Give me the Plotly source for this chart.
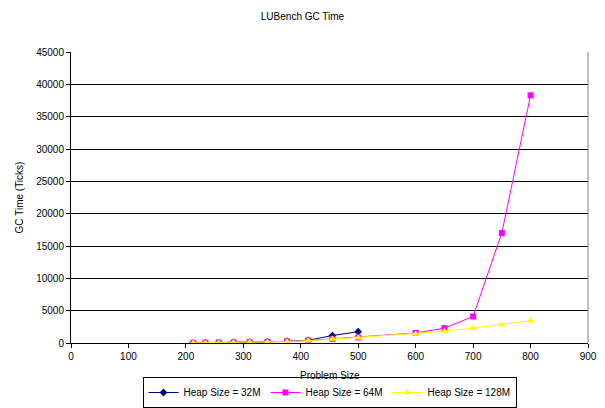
import plotly.graph_objects as go

# Problem sizes for each heap configuration
sizes_32m = [213, 234, 257, 283, 311, 342, 376, 413, 455, 500]
sizes_64m = [213, 234, 257, 283, 311, 342, 376, 413, 455, 500, 600, 650, 700, 750, 800]
sizes_128m = [213, 234, 257, 283, 311, 342, 376, 413, 455, 500, 600, 650, 700, 750, 800]

# GC time in ticks
gc_32m = [30, 45, 65, 95, 130, 190, 270, 420, 1150, 1750]
gc_64m = [25, 40, 60, 90, 120, 170, 240, 380, 650, 850, 1550, 2300, 4100, 17000, 38300]
gc_128m = [20, 35, 55, 85, 110, 160, 220, 350, 600, 800, 1400, 1800, 2300, 2850, 3450]

series_names = ["Heap Size = 32M", "Heap Size = 64M", "Heap Size = 128M"]
x_ticks = [0, 100, 200, 300, 400, 500, 600, 700, 800, 900]
y_ticks = [0, 5000, 10000, 15000, 20000, 25000, 30000, 35000, 40000, 45000]

FONT = "Liberation Sans, Arial, sans-serif"

fig = go.Figure()
fig.add_trace(go.Scatter(
    x=sizes_32m, y=gc_32m, name=series_names[0], mode="lines+markers",
    line=dict(color="#000080", width=1),
    marker=dict(symbol="diamond", size=6, color="#000080"),
))
fig.add_trace(go.Scatter(
    x=sizes_64m, y=gc_64m, name=series_names[1], mode="lines+markers",
    line=dict(color="#FF00FF", width=1),
    marker=dict(symbol="square", size=6, color="#FF00FF"),
))
fig.add_trace(go.Scatter(
    x=sizes_128m, y=gc_128m, name=series_names[2], mode="lines+markers",
    line=dict(color="#FFFF00", width=1),
    marker=dict(symbol="triangle-up", size=7, color="#FFFF00"),
))

fig.update_layout(
    width=605, height=408,
    margin=dict(l=71, r=17, t=52, b=65, autoexpand=False),
    paper_bgcolor="white", plot_bgcolor="white",
    font=dict(family=FONT, size=10, color="black"),
    title=dict(text="LUBench GC Time", x=0.5, xanchor="center", y=0.96, yanchor="middle",
               font=dict(size=10, family=FONT, color="black")),
    showlegend=True,
    legend=dict(
        orientation="h", x=0.5, xanchor="center",
        yref="container", y=0.0, yanchor="bottom",
        bordercolor="black", borderwidth=1, bgcolor="white",
        font=dict(size=10, family=FONT), tracegroupgap=0, itemwidth=30,
    ),
    xaxis=dict(
        range=[0, 900], tickvals=x_ticks, ticktext=[str(v) for v in x_ticks],
        showgrid=False, zeroline=False,
        showline=True, linecolor="black", linewidth=1,
        ticks="outside", ticklen=4, tickcolor="black",
    ),
    yaxis=dict(
        range=[0, 45000], tickvals=y_ticks, ticktext=[str(v) for v in y_ticks],
        showgrid=True, gridcolor="black", gridwidth=1, zeroline=False,
        showline=True, linecolor="black", linewidth=1,
        ticks="outside", ticklen=4, tickcolor="black",
        title=dict(text="GC Time (Ticks)", standoff=10, font=dict(size=10)),
    ),
    annotations=[dict(text="Problem Size", xref="paper", yref="paper", x=0.5, y=-0.113,
                      xanchor="center", yanchor="middle", showarrow=False,
                      font=dict(size=10, family=FONT, color="black"))],
    shapes=[dict(type="line", xref="paper", yref="paper", x0=1, x1=1, y0=0, y1=1,
                 line=dict(color="#808080", width=1))],
)

fig.write_html("out.html")
